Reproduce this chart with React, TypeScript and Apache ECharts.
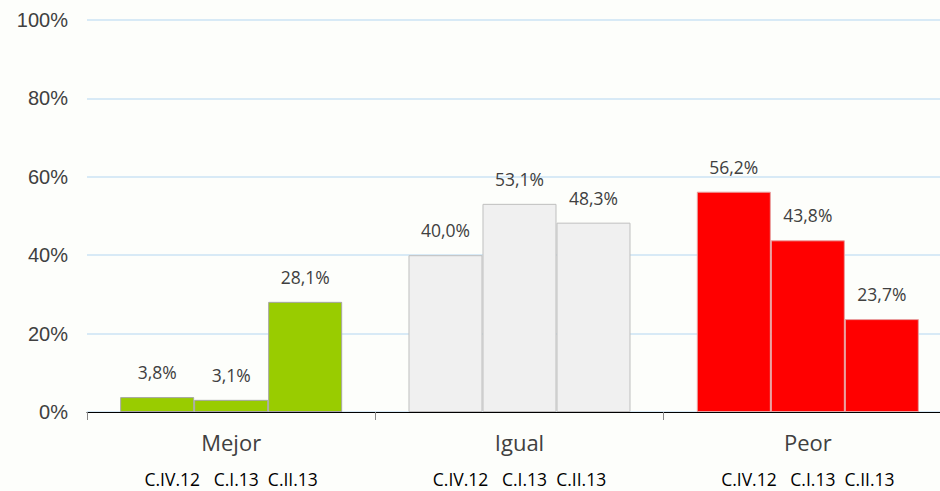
import React, { useEffect, useRef } from "react";
import * as echarts from "echarts";

const categories = ["Mejor", "Igual", "Peor"];
const periods = ["C.IV.12", "C.I.13", "C.II.13"];
const valuesCIV12 = [3.8, 40.0, 56.2];
const valuesCI13 = [3.1, 53.1, 43.8];
const valuesCII13 = [28.1, 48.3, 23.7];
const yTicks = [0, 20, 40, 60, 80, 100];
const categoryColors = ["#99cc00", "#f0f0f0", "#ff0000"];
const borderColors = ["#a6a6a6", "#bfbfbf", "#e8a0a0"];

export default function App() {
  const ref = useRef<HTMLDivElement>(null);
  useEffect(() => {
    if (!ref.current) return;
    const chart = echarts.init(ref.current, undefined, { renderer: "svg" });
    const seriesData = [valuesCIV12, valuesCI13, valuesCII13];
    chart.setOption({
      animation: false,
      backgroundColor: "#fdfefb",
      grid: { left: 87, top: 20, width: 865, height: 392, containLabel: false },
      xAxis: {
        type: "category",
        data: categories,
        axisLine: { lineStyle: { color: "#000000", width: 1 } },
        axisTick: { show: true, length: 8, lineStyle: { color: "#888888" } },
        axisLabel: {
          margin: 14,
          formatter: (v: string) => `{cat|${v}}\n{sub|${periods[0]}   ${periods[1]}  ${periods[2]}}`,
          rich: {
            cat: { fontSize: 22, color: "#404040", fontFamily: "Open Sans", lineHeight: 32, align: "center" },
            sub: { fontSize: 17.5, fontWeight: "normal", color: "#000000", fontFamily: "Open Sans", lineHeight: 42, align: "center" },
          },
        },
      },
      yAxis: {
        type: "value",
        min: 0,
        max: 100,
        interval: 20,
        axisLine: { show: false },
        axisTick: { show: false },
        axisLabel: {
          margin: 19,
          fontSize: 20,
          color: "#404040",
          fontFamily: "Liberation Sans",
          formatter: (v: number) => (yTicks.includes(v) ? `${v}%` : ""),
        },
        splitLine: { lineStyle: { color: "#d8eaf6", width: 2 } },
      },
      series: seriesData.map((vals, si) => ({
        type: "bar",
        name: periods[si],
        data: vals.map((v, di) => ({ value: v, itemStyle: { color: categoryColors[di], borderColor: borderColors[di] } })),
        barGap: "0%",
        barCategoryGap: "23%",
        itemStyle: { borderWidth: 1 },
        label: {
          show: true,
          position: "top",
          distance: 16,
          fontSize: 17.5,
          color: "#404040",
          fontFamily: "Open Sans",
          formatter: (p: any) => `${Number(p.value).toFixed(1).replace(".", ",")}%`,
        },
      })),
    });
    return () => chart.dispose();
  }, []);
  return (
    <div style={{ position: "fixed", left: 0, top: 0, width: 940, height: 491, overflow: "hidden", background: "#fdfefb" }}>
      <div ref={ref} style={{ width: 970, height: 491 }} />
    </div>
  );
}
